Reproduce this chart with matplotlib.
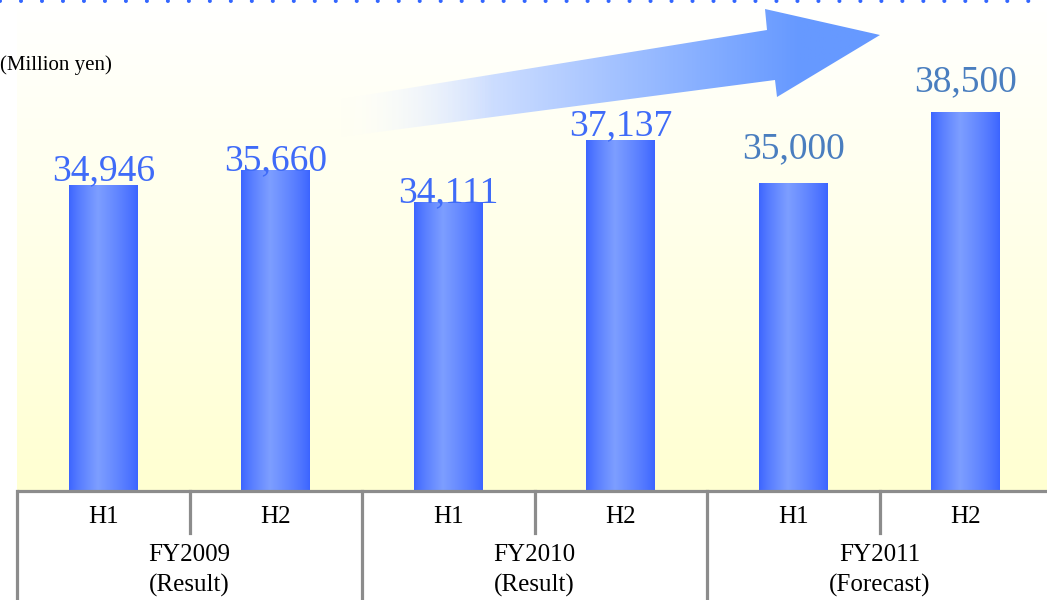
import numpy as np
import matplotlib
matplotlib.use("Agg")
import matplotlib.pyplot as plt
from matplotlib import transforms
from matplotlib.patches import Polygon

# data
halves = ["H1", "H2", "H1", "H2", "H1", "H2"]
sales = [34946, 35660, 34111, 37137, 35000, 38500]
years = ["FY2009", "FY2010", "FY2011"]
year_notes = ["(Result)", "(Result)", "(Forecast)"]
unit_label = "(Million yen)"

plt.rcParams['font.family'] = ['Liberation Serif', 'DejaVu Serif']

W, H = 1047, 600
fig = plt.figure(figsize=(W / 100, H / 100), dpi=100)
fig.patch.set_facecolor("white")

# main chart area: left edge at 17px, baseline at 491px
ax = fig.add_axes([17 / W, 109 / H, 1035 / W, 491 / H])
ax.axis("off")
YMIN, YMAX = 20000, 43950

# background: white at top to pale yellow at the baseline
t = np.linspace(0, 1, 256)[:, None]
top_c = np.array([1.0, 1.0, 1.0])
bot_c = np.array([1.0, 1.0, 0.82])
bg = top_c * (1 - t[..., None]) + bot_c * t[..., None]
bg = np.repeat(bg, 2, axis=1)
ax.imshow(bg, extent=[0, 1, 0, 1], transform=ax.transAxes, aspect="auto",
          origin="upper", zorder=0)

x = np.arange(len(sales))

# bars with horizontal gradient
dark = np.array([0.23, 0.39, 1.0])
light = np.array([0.49, 0.62, 1.0])
u = np.linspace(0, 1, 200)
f = np.where(u < 0.42, u / 0.42, (1 - u) / 0.58)
f = np.clip(f, 0, 1) ** 0.8
grad = dark * (1 - f[:, None]) + light * f[:, None]
grad = grad[None, :, :]

bars = ax.bar(x, sales, width=0.4, color="none", edgecolor="none", zorder=2)
for b, v in zip(bars, sales):
    im = ax.imshow(grad, extent=[b.get_x(), b.get_x() + b.get_width(), YMIN, v],
                   aspect="auto", zorder=2)
    im.set_clip_path(b)
ax.set_xlim(-0.5, 5.5)
ax.set_ylim(YMIN, YMAX)

# value labels
px = (YMAX - YMIN) / 491
label_offset = [4, 0, 0, 4, 25, 21]
label_colors = ["#3F6BF8"] * 4 + ["#4A7EBF"] * 2
for xi, v, off, c in zip(x, sales, label_offset, label_colors):
    ax.text(xi, v + off * px, f"{v:,}", ha="center", va="baseline",
            fontsize=27, color=c, zorder=4)

# table under the chart
tr = transforms.blended_transform_factory(ax.transData, ax.transAxes)
grey = "#8C8C8C"
ax.plot([-0.5, 5.6], [0, 0], color=grey, lw=2.3, transform=tr, clip_on=False, zorder=5,
        solid_capstyle="butt")
for gx in [-0.5, 1.5, 3.5, 5.5]:
    ax.plot([gx, gx], [0, -0.23], color=grey, lw=2.3, transform=tr, clip_on=False, zorder=5)
for sx in [0.5, 2.5, 4.5]:
    ax.plot([sx, sx], [0, -0.086], color=grey, lw=2.3, transform=tr, clip_on=False, zorder=5)

for xi, h in zip(x, halves):
    ax.text(xi, -26 / 491, h, ha="center", va="center", fontsize=18,
            transform=tr, clip_on=False)
for i, (yr, note) in enumerate(zip(years, year_notes)):
    gx = 2 * i + 0.5
    ax.text(gx, -64 / 491, yr, ha="center", va="center", fontsize=18,
            transform=tr, clip_on=False)
    ax.text(gx, -94 / 491, note, ha="center", va="center", fontsize=18,
            transform=tr, clip_on=False)

# overlay in pixel coordinates for decorations
ov = fig.add_axes([0, 0, 1, 1])
ov.axis("off")
ov.patch.set_alpha(0)

# dotted line along the top
ov.plot([0, W], [0.8, 0.8], color="#3366FF", lw=2.9, linestyle=(0, (0.01, 5.2)),
        dash_capstyle="round", clip_on=False)

# fading arrow
arrow_pts = [(335, 100), (767, 30), (765, 9), (880, 35), (777, 97), (775, 80), (340, 137)]
poly = Polygon(arrow_pts, closed=True, facecolor="none", edgecolor="none")
ov.add_patch(poly)
xs = np.linspace(335, 880, 400)
s = np.clip((xs - 340) / (800 - 340), 0, 1)
blue = np.array([0.40, 0.60, 1.0])
col = np.ones(3) * (1 - s[:, None]) + blue * s[:, None]
rgba = np.zeros((1, len(xs), 4))
rgba[0, :, :3] = col
rgba[0, :, 3] = np.clip(s * 3, 0, 1)
aim = ov.imshow(rgba, extent=[335, 880, 140, 5], aspect="auto", origin="upper")
aim.set_clip_path(poly)
ov.set_xlim(0, W)
ov.set_ylim(H, 0)

ov.text(0, 65, unit_label, ha="left", va="center", fontsize=15)

fig.savefig("out.png", dpi=100)
